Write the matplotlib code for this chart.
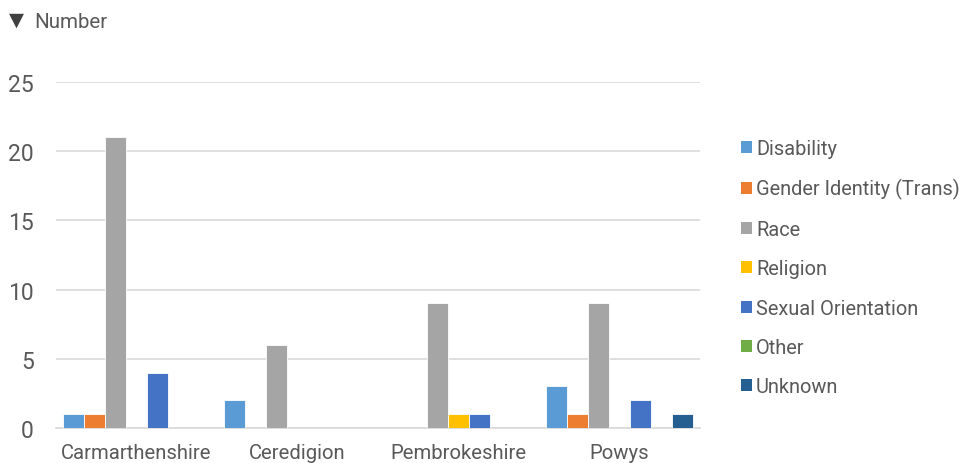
import matplotlib
matplotlib.use("Agg")
import matplotlib.pyplot as plt
import numpy as np
from matplotlib.patches import Patch

plt.rcParams['font.family'] = ['Roboto', 'DejaVu Sans']

areas = ["Carmarthenshire", "Ceredigion", "Pembrokeshire", "Powys"]
series = ["Disability", "Gender Identity (Trans)", "Race", "Religion",
          "Sexual Orientation", "Other", "Unknown"]
disability = [1, 2, 0, 3]
gender_identity = [1, 0, 0, 1]
race = [21, 6, 9, 9]
religion = [0, 0, 1, 0]
sexual_orientation = [4, 0, 1, 2]
other = [0, 0, 0, 0]
unknown = [0, 0, 0, 1]
values = [disability, gender_identity, race, religion,
          sexual_orientation, other, unknown]
colors = ["#5b9bd5", "#ed7d31", "#a5a5a5", "#ffc000",
          "#4472c4", "#70ad47", "#255e91"]
yticks = [0, 5, 10, 15, 20, 25]

text_col = "#595959"

fig = plt.figure(figsize=(9.62, 4.64), dpi=100)
ax = fig.add_axes([56 / 962, 35 / 464, 644 / 962, 346 / 464])

x = np.arange(len(areas))
n = len(series)
bw = 0.913 / n
for i, (name, vals, c) in enumerate(zip(series, values, colors)):
    offs = (i - (n - 1) / 2) * bw
    ax.bar(x + offs, vals, width=bw, color=c, edgecolor="white",
           linewidth=0.6, label=name, zorder=3)

ax.set_xlim(-0.5, len(areas) - 0.5)
ax.set_ylim(0, 25)
ax.set_yticks(yticks)
ax.set_xticks(x)
ax.set_xticklabels(areas, fontsize=14.6)
ax.yaxis.grid(True, color="#d9d9d9", linewidth=1.2, zorder=0)
for s in ["top", "right", "left"]:
    ax.spines[s].set_visible(False)
ax.spines["bottom"].set_color("#d9d9d9")
ax.spines["bottom"].set_linewidth(1.2)
ax.tick_params(axis="both", length=0, colors=text_col)
ax.tick_params(axis="y", pad=16, labelsize=16.5)
ax.tick_params(axis="x", pad=10.5)

handles = [Patch(facecolor=c, edgecolor="none") for c in colors]
fig.legend(handles, series, loc="upper left", bbox_to_anchor=(733 / 962, 1 - 132 / 464),
           frameon=False, fontsize=14.4, labelcolor=text_col,
           handlelength=0.55, handleheight=0.55, handletextpad=0.2,
           labelspacing=1.02, borderaxespad=0)

fig.text(9 / 962, 1 - 20 / 464, "▼", fontsize=14, color="#404040",
         va="center", ha="left", family=["DejaVu Sans"])
fig.text(34 / 962, 1 - 22 / 464, "Number", fontsize=14.8, color=text_col,
         va="center", ha="left")

fig.savefig("out.png", dpi=100)
